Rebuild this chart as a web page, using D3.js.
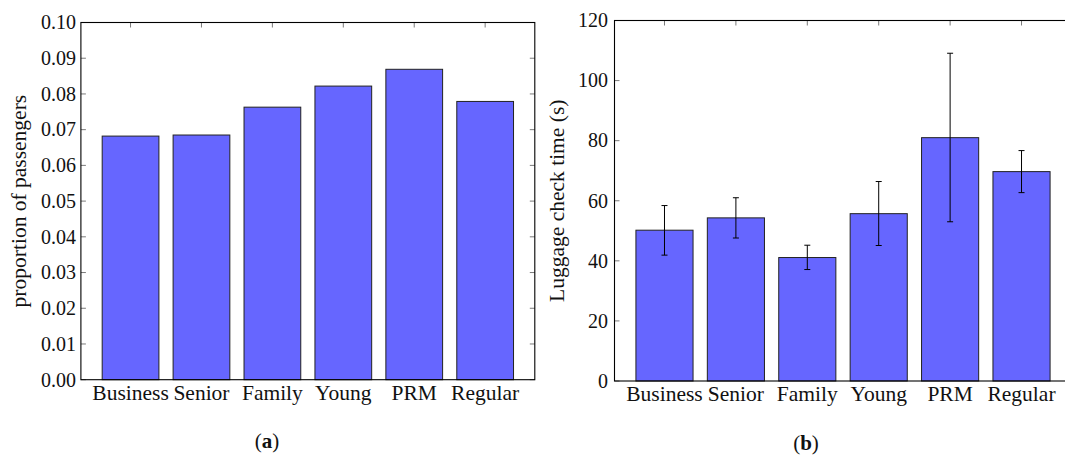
<!DOCTYPE html>
<html>
<head>
<meta charset="utf-8">
<script src="https://cdn.jsdelivr.net/npm/d3@7"></script>
<style>
  html, body { margin: 0; padding: 0; background: #fff; }
  svg { display: block; }
  text { font-family: "Liberation Serif", "Times New Roman", serif; fill: #111; }
</style>
</head>
<body>
<svg id="chart" width="1065" height="455"></svg>
<script>
// ---- data ----
const categories = ["Business", "Senior", "Family", "Young", "PRM", "Regular"];
const proportions = [0.0682, 0.0685, 0.0763, 0.0822, 0.0869, 0.0779];
const checkTimeMean = [50.2, 54.3, 41.1, 55.7, 81.0, 69.7];
const checkTimeLow  = [41.9, 47.6, 37.1, 45.1, 53.0, 62.7];
const checkTimeHigh = [58.4, 61.0, 45.2, 66.4, 109.1, 76.7];
const yTicksA = [0, 0.01, 0.02, 0.03, 0.04, 0.05, 0.06, 0.07, 0.08, 0.09, 0.10];
const yTicksB = [0, 20, 40, 60, 80, 100, 120];

const svg = d3.select("#chart");
const BAR_FILL = "#6666ff";
const TICK_COLOR = "#7a7a7a";

function panel(opts) {
  const g = svg.append("g");
  const x = d3.scaleLinear().domain([-0.7, categories.length - 1 + 0.7]).range([opts.left, opts.right]);
  const y = d3.scaleLinear().domain(opts.yDomain).range([opts.bottom, opts.top]);
  const idx = categories.map((d, i) => i);
  const halfW = 0.4;

  // inner ticks (bottom ones get covered by bars)
  const tickLen = 5;
  g.selectAll(".tb").data(idx).join("line")
    .attr("x1", i => x(i)).attr("x2", i => x(i))
    .attr("y1", opts.bottom).attr("y2", opts.bottom - tickLen)
    .attr("stroke", TICK_COLOR).attr("stroke-width", 1);
  g.selectAll(".tt").data(idx).join("line")
    .attr("x1", i => x(i)).attr("x2", i => x(i))
    .attr("y1", opts.top).attr("y2", opts.top + tickLen)
    .attr("stroke", TICK_COLOR).attr("stroke-width", 1);
  g.selectAll(".tl").data(opts.yTicks).join("line")
    .attr("x1", opts.left).attr("x2", opts.left + tickLen)
    .attr("y1", d => y(d)).attr("y2", d => y(d))
    .attr("stroke", TICK_COLOR).attr("stroke-width", 1);
  g.selectAll(".tr").data(opts.yTicks).join("line")
    .attr("x1", opts.right).attr("x2", opts.right - tickLen)
    .attr("y1", d => y(d)).attr("y2", d => y(d))
    .attr("stroke", TICK_COLOR).attr("stroke-width", 1);

  // bars
  g.selectAll(".bar").data(opts.values).join("rect")
    .attr("x", (d, i) => x(i - halfW))
    .attr("width", (d, i) => x(i + halfW) - x(i - halfW))
    .attr("y", d => y(d))
    .attr("height", d => y(opts.yDomain[0]) - y(d))
    .attr("fill", BAR_FILL)
    .attr("stroke", "#222")
    .attr("stroke-width", 1);

  // error bars
  if (opts.low) {
    const cap = 3;
    const eg = g.append("g").attr("stroke", "#000").attr("stroke-width", 1);
    idx.forEach(i => {
      eg.append("line").attr("x1", x(i)).attr("x2", x(i))
        .attr("y1", y(opts.low[i])).attr("y2", y(opts.high[i]));
      eg.append("line").attr("x1", x(i) - cap).attr("x2", x(i) + cap)
        .attr("y1", y(opts.low[i])).attr("y2", y(opts.low[i]));
      eg.append("line").attr("x1", x(i) - cap).attr("x2", x(i) + cap)
        .attr("y1", y(opts.high[i])).attr("y2", y(opts.high[i]));
    });
  }

  // frame
  g.append("rect")
    .attr("x", opts.left).attr("y", opts.top)
    .attr("width", opts.right - opts.left).attr("height", opts.bottom - opts.top)
    .attr("fill", "none").attr("stroke", "#000").attr("stroke-width", 1.1);

  // y tick labels
  g.selectAll(".yl").data(opts.yTicks).join("text")
    .attr("x", opts.labelRight)
    .attr("y", d => y(d))
    .attr("dy", "0.34em")
    .attr("text-anchor", "end")
    .attr("font-size", 20)
    .text(opts.fmt);

  // category labels
  g.selectAll(".xl").data(categories).join("text")
    .attr("x", (d, i) => x(i))
    .attr("y", opts.catBaseline)
    .attr("text-anchor", "middle")
    .attr("font-size", 21.5)
    .text(d => d);

  // axis title
  g.append("text")
    .attr("transform", `translate(${opts.titleX},${(opts.top + opts.bottom) / 2}) rotate(-90)`)
    .attr("text-anchor", "middle")
    .attr("font-size", 21.5)
    .text(opts.title);

  // caption
  const cap = g.append("text")
    .attr("x", opts.capX).attr("y", opts.capY)
    .attr("text-anchor", "middle")
    .attr("font-size", 21);
  cap.append("tspan").text("(");
  cap.append("tspan").attr("font-weight", "bold").text(opts.capLetter);
  cap.append("tspan").text(")");
}

panel({
  left: 80.9, right: 534.8, top: 22.5, bottom: 379.7,
  yDomain: [0, 0.10], yTicks: yTicksA, fmt: d => d3.format(".2f")(d),
  values: proportions,
  labelRight: 76, catBaseline: 400,
  title: "proportion of passengers", titleX: 26,
  capX: 267, capY: 448, capLetter: "a"
});

panel({
  left: 614.5, right: 1071.5, top: 20.5, bottom: 381,
  yDomain: [0, 120], yTicks: yTicksB, fmt: d => String(d),
  values: checkTimeMean, low: checkTimeLow, high: checkTimeHigh,
  labelRight: 608, catBaseline: 401,
  title: "Luggage check time (s)", titleX: 564,
  capX: 806, capY: 450, capLetter: "b"
});
</script>
</body>
</html>
